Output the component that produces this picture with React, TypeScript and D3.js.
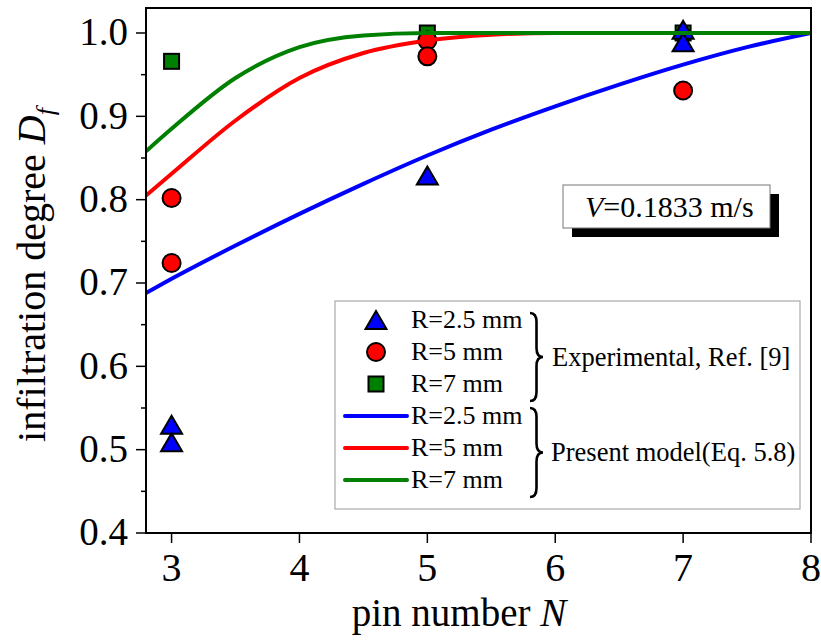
import React from 'react';
import * as d3 from 'd3';

const xTicks = [3, 4, 5, 6, 7, 8];
const yTicks = [0.4, 0.5, 0.6, 0.7, 0.8, 0.9, 1.0];
const yMinorTicks = [0.45, 0.55, 0.65, 0.75, 0.85, 0.95];

// Experimental, Ref. [9]
const triN = [3, 3, 5, 7, 7];
const triD = [0.530, 0.509, 0.829, 1.004, 0.989];
const cirN = [3, 3, 5, 5, 7];
const cirD = [0.802, 0.724, 0.991, 0.972, 0.931];
const sqN = [3, 5, 7];
const sqD = [0.966, 1.0, 1.0];

// Present model (Eq. 5.8)
const modelN = [2.8, 3.0, 3.5, 4.0, 4.5, 5.0, 5.5, 6.0, 6.5, 7.0, 7.5, 8.0];
const modelBlue = [0.688, 0.705, 0.745, 0.783, 0.819, 0.853, 0.884, 0.912, 0.938, 0.962, 0.983, 1.0];
const modelRed = [0.805, 0.831, 0.895, 0.946, 0.976, 0.991, 0.998, 1.0, 1.0, 1.0, 1.0, 1.0];
const modelGreen = [0.858, 0.885, 0.946, 0.983, 0.997, 1.0, 1.0, 1.0, 1.0, 1.0, 1.0, 1.0];

const legendLabels = ['R=2.5 mm', 'R=5 mm', 'R=7 mm'];

const BLUE = '#0000ff';
const RED = '#ff0000';
const GREEN = '#008000';
const FONT = '"Liberation Serif", "Times New Roman", Times, serif';

const L = 146, R = 811, T = 8, B = 533;

const x = d3.scaleLinear().domain([2.8, 8]).range([L, R]);
const y = d3.scaleLinear().domain([0.4, 1.03]).range([B, T]);

const TRI_W = 21, TRI_H = 18;
const triPath = (cx: number, cy: number) =>
  `M${cx},${cy - TRI_H / 2}L${cx + TRI_W / 2},${cy + TRI_H / 2}L${cx - TRI_W / 2},${cy + TRI_H / 2}Z`;

const bracePath = (bx: number, y0: number, y1: number, w: number) => {
  const xm = bx + w * 0.5;
  const ym = (y0 + y1) / 2;
  const r = 9;
  return `M${bx},${y0}Q${xm},${y0} ${xm},${y0 + r}L${xm},${ym - r}Q${xm},${ym} ${bx + w},${ym}` +
    `Q${xm},${ym} ${xm},${ym + r}L${xm},${y1 - r}Q${xm},${y1} ${bx},${y1}`;
};

export default function App() {
  const line = d3.line<number>()
    .x((_, i) => x(modelN[i]))
    .y((d) => y(d))
    .curve(d3.curveMonotoneX);

  const legendY = [320, 352, 384, 416, 448, 480];

  return (
    <svg width={821} height={641} style={{ position: 'absolute', left: 0, top: 0, background: '#fff' }}
      fontFamily={FONT}>
      <defs>
        <clipPath id="plotclip">
          <rect x={L} y={T} width={R - L} height={B - T} />
        </clipPath>
      </defs>
      <rect x={0} y={0} width={821} height={641} fill="#fff" />

      {/* Y ticks */}
      {yTicks.map((t) => (
        <g key={'yt' + t}>
          <line x1={L - 10} x2={L} y1={y(t)} y2={y(t)} stroke="#000" strokeWidth={1.5} />
          <text x={128} y={y(t)} dy="0.32em" textAnchor="end" fontSize={39} fill="#000">{t.toFixed(1)}</text>
        </g>
      ))}
      {yMinorTicks.map((t) => (
        <line key={'ym' + t} x1={L - 5} x2={L} y1={y(t)} y2={y(t)} stroke="#000" strokeWidth={1.5} />
      ))}
      {/* X ticks */}
      {xTicks.map((t) => (
        <g key={'xt' + t}>
          <line x1={x(t)} x2={x(t)} y1={B} y2={B + 10} stroke="#000" strokeWidth={1.5} />
          <text x={x(t)} y={581} textAnchor="middle" fontSize={40} fill="#000">{t}</text>
        </g>
      ))}

      {/* Axis titles */}
      <text x={459} y={626} textAnchor="middle" fontSize={39} fill="#000">
        pin number <tspan fontStyle="italic">N</tspan>
      </text>
      <text transform="translate(45,275) rotate(-90)" textAnchor="middle" fontSize={40} fill="#000">
        infiltration degree <tspan fontStyle="italic">D</tspan>
        <tspan fontStyle="italic" fontSize={26} dy={9}>f</tspan>
      </text>

      {/* Plot content */}
      <g clipPath="url(#plotclip)">
        {sqN.map((n, i) => (
          <rect key={'sq' + i} x={x(n) - 7.5} y={y(sqD[i]) - 7.5} width={15} height={15}
            fill={GREEN} stroke="#000" strokeWidth={2} />
        ))}
        {cirN.map((n, i) => (
          <circle key={'ci' + i} cx={x(n)} cy={y(cirD[i])} r={9} fill={RED} stroke="#000" strokeWidth={2} />
        ))}
        {triN.map((n, i) => (
          <path key={'tr' + i} d={triPath(x(n), y(triD[i]))} fill={BLUE} stroke="#000" strokeWidth={2}
            strokeLinejoin="miter" />
        ))}
        <path d={line(modelBlue) || ''} fill="none" stroke={BLUE} strokeWidth={4} />
        <path d={line(modelRed) || ''} fill="none" stroke={RED} strokeWidth={4} />
        <path d={line(modelGreen) || ''} fill="none" stroke={GREEN} strokeWidth={4} />
      </g>

      {/* Frame */}
      <rect x={L} y={T} width={R - L} height={B - T} fill="none" stroke="#000" strokeWidth={2} />

      {/* V box */}
      <rect x={572} y={194} width={207} height={43} fill="#000" />
      <rect x={563} y={185} width={207} height={43} fill="#fff" stroke="#777" strokeWidth={1} />
      <text x={585} y={217} fontSize={30} fill="#000">
        <tspan fontStyle="italic">V</tspan>=0.1833 m/s
      </text>

      {/* Legend */}
      <rect x={335} y={301} width={465} height={208} fill="#fff" stroke="#aaa" strokeWidth={1.2} />
      <path d={triPath(376, legendY[0])} fill={BLUE} stroke="#000" strokeWidth={2} />
      <circle cx={376} cy={legendY[1]} r={9} fill={RED} stroke="#000" strokeWidth={2} />
      <rect x={376 - 7.5} y={legendY[2] - 7.5} width={15} height={15} fill={GREEN} stroke="#000" strokeWidth={2} />
      {[BLUE, RED, GREEN].map((c, i) => (
        <line key={'ll' + i} x1={345} x2={407} y1={legendY[3 + i]} y2={legendY[3 + i]} stroke={c}
          strokeWidth={4} strokeLinecap="round" />
      ))}
      {legendY.map((ly, i) => (
        <text key={'lt' + i} x={411} y={ly} dy="0.32em" fontSize={26} fill="#000">{legendLabels[i % 3]}</text>
      ))}
      <path d={bracePath(530, 313, 401, 13)} fill="none" stroke="#000" strokeWidth={2.6} />
      <path d={bracePath(530, 408, 497, 13)} fill="none" stroke="#000" strokeWidth={2.6} />
      <text x={552} y={366} fontSize={26.5} fill="#000">Experimental, Ref. [9]</text>
      <text x={551} y={461} fontSize={26.5} fill="#000">Present model(Eq. 5.8)</text>
    </svg>
  );
}
